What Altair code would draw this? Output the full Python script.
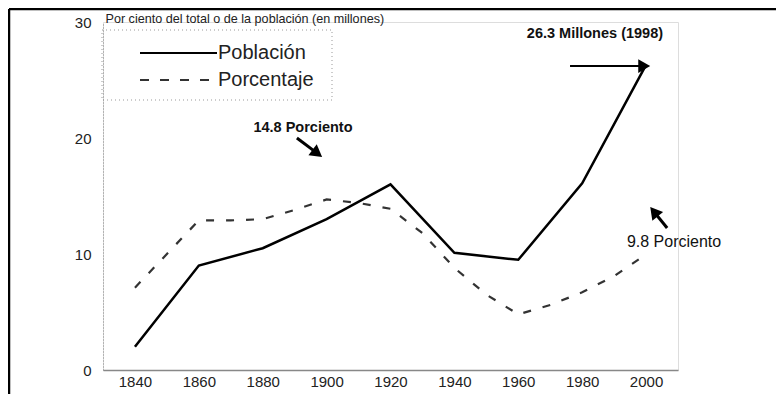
import math
import altair as alt
import pandas as pd

# ---- data ----
years_pop = [1840, 1860, 1880, 1900, 1920, 1940, 1960, 1980, 2000]
poblacion = [2.0, 9.0, 10.5, 13.0, 16.0, 10.1, 9.5, 16.1, 26.3]

years_pct = [1840, 1850, 1860, 1870, 1880, 1890, 1900, 1910, 1920, 1930,
             1940, 1950, 1960, 1970, 1980, 1990, 1998]
porcentaje = [7.1, 10.0, 12.9, 12.9, 13.0, 13.8, 14.7, 14.4, 13.9, 11.8,
              8.8, 6.5, 4.8, 5.6, 6.7, 8.1, 9.6]

x_ticks = [1840, 1860, 1880, 1900, 1920, 1940, 1960, 1980, 2000]
y_ticks = [0, 10, 20, 30]

ann_text = ["14.8 Porciento", "26.3 Millones (1998)", "9.8 Porciento"]
ann_x = [1892.6, 1984.0, 1994.0]
ann_y = [20.9, 29.0, 11.0]
ann_align = ["center", "center", "left"]
ann_weight = ["bold", "bold", "normal"]
ann_size = [14.5, 14.5, 16]

arrow_x1 = [1890.7, 1976.2, 2006.6]
arrow_y1 = [20.0, 26.2, 12.24]
arrow_x2 = [1898.6, 2001.3, 2001.3]
arrow_y2 = [18.36, 26.2, 14.05]
arrow_w = [3.0, 2.0, 3.0]

title_text = "Por ciento del total o de la población (en millones)"
legend_labels = ["Población", "Porcentaje"]

FONT = "Liberation Sans"
W, H = 575, 348
XDOM = [1830, 2010]
YDOM = [0, 30]
pxx = W / (XDOM[1] - XDOM[0])
pxy = H / (YDOM[1] - YDOM[0])

xs = alt.Scale(domain=XDOM, nice=False, zero=False)
ys = alt.Scale(domain=YDOM, nice=False, zero=False)

df_pop = pd.DataFrame({"year": years_pop, "v": poblacion})
df_pct = pd.DataFrame({"year": years_pct, "v": porcentaje})

x_axis = alt.Axis(values=x_ticks, format="d", ticks=False, grid=False,
                  labelFont=FONT, labelFontSize=15, labelColor="#222",
                  labelPadding=4, domainColor="#888", domainWidth=1.5,
                  title=None, labelFlush=False)
y_axis = alt.Axis(values=y_ticks, ticks=False, grid=False,
                  labelFont=FONT, labelFontSize=15, labelColor="#222",
                  labelPadding=12, domainColor="#888", domainDash=[1, 2],
                  title=title_text, titleAngle=0, titleAlign="left",
                  titleBaseline="middle", titleX=2, titleY=-4,
                  titleFont=FONT, titleFontSize=12.6, titleFontWeight="normal",
                  titleColor="#222", labelFlush=False)

line_pop = alt.Chart(df_pop).mark_line(color="black", strokeWidth=2.5).encode(
    x=alt.X("year:Q", scale=xs, axis=x_axis),
    y=alt.Y("v:Q", scale=ys, axis=y_axis),
)
line_pct = alt.Chart(df_pct).mark_line(color="#333", strokeWidth=2.2,
                                       strokeDash=[8, 12]).encode(
    x=alt.X("year:Q", scale=xs, axis=None),
    y=alt.Y("v:Q", scale=ys, axis=None),
)

df_ann = pd.DataFrame({"t": ann_text, "x": ann_x, "y": ann_y})
texts = []
for i in range(len(ann_text)):
    texts.append(
        alt.Chart(df_ann.iloc[[i]]).mark_text(
            font=FONT, fontSize=ann_size[i], fontWeight=ann_weight[i],
            color="#111", align=ann_align[i], baseline="middle").encode(
            x=alt.X("x:Q", scale=xs, axis=None),
            y=alt.Y("y:Q", scale=ys, axis=None),
            text="t:N")
    )

# arrows: shaft + triangle head
rows = []
for i in range(len(arrow_x1)):
    dxp = (arrow_x2[i] - arrow_x1[i]) * pxx
    dyp = -(arrow_y2[i] - arrow_y1[i]) * pxy
    L = math.hypot(dxp, dyp)
    ang = math.degrees(math.atan2(dxp, -dyp)) % 360
    back = 6.0
    hx = arrow_x2[i] - (dxp / L) * back / pxx
    hy = arrow_y2[i] + (dyp / L) * back / pxy
    rows.append({"x1": arrow_x1[i], "y1": arrow_y1[i], "x2": hx, "y2": hy,
                 "hx": hx, "hy": hy, "ang": ang, "w": arrow_w[i]})
df_arr = pd.DataFrame(rows)

shafts = alt.Chart(df_arr).mark_rule(color="black").encode(
    x=alt.X("x1:Q", scale=xs, axis=None),
    y=alt.Y("y1:Q", scale=ys, axis=None),
    x2="x2:Q", y2="y2:Q",
    strokeWidth=alt.StrokeWidth("w:Q", scale=None, legend=None),
)
heads = alt.Chart(df_arr).mark_point(shape="triangle-up", filled=True,
                                     color="black", size=190, opacity=1).encode(
    x=alt.X("hx:Q", scale=xs, axis=None),
    y=alt.Y("hy:Q", scale=ys, axis=None),
    angle=alt.Angle("ang:Q", scale=None),
)

# legend drawn in pixel space
one = pd.DataFrame({"k": [0]})
leg_box = alt.Chart(one).mark_rect(fillOpacity=0, stroke="#999",
                                   strokeDash=[1, 3], strokeWidth=1).encode(
    x=alt.value(-1), x2=alt.value(229), y=alt.value(8), y2=alt.value(78))
leg_l1 = alt.Chart(one).mark_rule(color="black", strokeWidth=2).encode(
    x=alt.value(37), x2=alt.value(114), y=alt.value(31))
leg_l2 = alt.Chart(one).mark_rule(color="#333", strokeWidth=2,
                                  strokeDash=[9, 11]).encode(
    x=alt.value(37), x2=alt.value(108), y=alt.value(58))
leg_t1 = alt.Chart(one).mark_text(font=FONT, fontSize=20, color="#222",
                                  align="left", baseline="middle",
                                  text=legend_labels[0]).encode(
    x=alt.value(115), y=alt.value(31))
leg_t2 = alt.Chart(one).mark_text(font=FONT, fontSize=20, color="#222",
                                  align="left", baseline="middle",
                                  text=legend_labels[1]).encode(
    x=alt.value(115), y=alt.value(58))

# scanned page frame (left and top edges)
frame_l = alt.Chart(one).mark_rule(color="black", strokeWidth=2.5).encode(
    x=alt.value(-94), y=alt.value(-13), y2=alt.value(372))
frame_t = alt.Chart(one).mark_rule(color="black", strokeWidth=2.5).encode(
    x=alt.value(-94), x2=alt.value(W + 98), y=alt.value(-13))

chart = alt.layer(
    line_pop, line_pct, *texts, shafts, heads,
    leg_box, leg_l1, leg_l2, leg_t1, leg_t2, frame_l, frame_t,
).resolve_axis(
    x="independent", y="independent",
).properties(
    width=W, height=H,
    autosize=alt.AutoSizeParams(type="none"),
    padding={"left": 95, "top": 14, "right": 98, "bottom": 24},
).configure_view(
    stroke="#999", strokeDash=[1, 2], strokeWidth=1,
).configure(background="white")

chart.save("out.html", embed_options={"renderer": "svg", "actions": False})
